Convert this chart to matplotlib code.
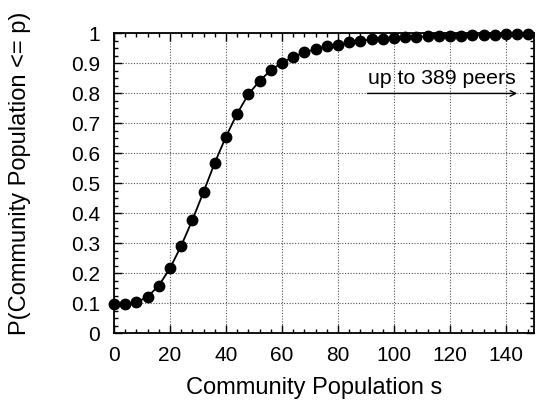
import matplotlib
matplotlib.use("Agg")
import matplotlib.pyplot as plt
from matplotlib.ticker import MultipleLocator

plt.rcParams['font.family'] = ['Liberation Sans', 'DejaVu Sans']

# community size (peers) and cumulative fraction of communities
population = list(range(0, 152, 4))
cdf = [0.098, 0.099, 0.103, 0.122, 0.159, 0.217, 0.292, 0.378, 0.472,
       0.569, 0.656, 0.733, 0.797, 0.842, 0.877, 0.903, 0.922, 0.937,
       0.948, 0.958, 0.963, 0.970, 0.975, 0.980, 0.983, 0.986, 0.988,
       0.989, 0.990, 0.991, 0.992, 0.993, 0.994, 0.995, 0.996, 0.997,
       0.998, 0.999]

x_ticks = [0, 20, 40, 60, 80, 100, 120, 140]
y_ticks = [0, 0.1, 0.2, 0.3, 0.4, 0.5, 0.6, 0.7, 0.8, 0.9, 1]
y_tick_labels = ['0', '0.1', '0.2', '0.3', '0.4', '0.5', '0.6', '0.7', '0.8', '0.9', '1']

fig = plt.figure(figsize=(5.4, 4.08), dpi=100)
ax = fig.add_axes([0.2111, 0.183, 0.7778, 0.735])

ax.plot(population, cdf, color='black', linewidth=1.3, marker='o',
        markersize=7.5, clip_on=False, zorder=3)

ax.set_xlim(0, 150)
ax.set_ylim(0, 1)
ax.set_xticks(x_ticks)
ax.set_yticks(y_ticks)
ax.set_yticklabels(y_tick_labels)
ax.xaxis.set_minor_locator(MultipleLocator(4))
ax.yaxis.set_minor_locator(MultipleLocator(0.025))
ax.tick_params(which='both', direction='in', top=True, right=True,
               labelsize=15, color='black')
ax.tick_params(axis='x', which='major', pad=9)
ax.tick_params(axis='y', which='major', pad=10)
ax.tick_params(which='major', length=6, width=1)
ax.tick_params(which='minor', length=3, width=1)
ax.grid(True, which='major', linestyle=(0, (1, 1.5)), color='#555555', linewidth=0.8)

for spine in ax.spines.values():
    spine.set_linewidth(1.3)

ax.set_xlabel('Community Population s', fontsize=17, va='center', ha='center')
ax.set_ylabel('P(Community Population <= p)', fontsize=17, va='center', ha='center')
ax.xaxis.set_label_coords(0.476, -0.182)
ax.yaxis.set_label_coords(-0.224, 0.535)

ax.annotate('', xy=(145, 0.8), xytext=(89.5, 0.8),
            arrowprops=dict(arrowstyle='->', color='black', lw=1.0))
ax.text(143.5, 0.85, 'up to 389 peers', fontsize=15.3, ha='right', va='center')

fig.savefig('out.png', dpi=100)
